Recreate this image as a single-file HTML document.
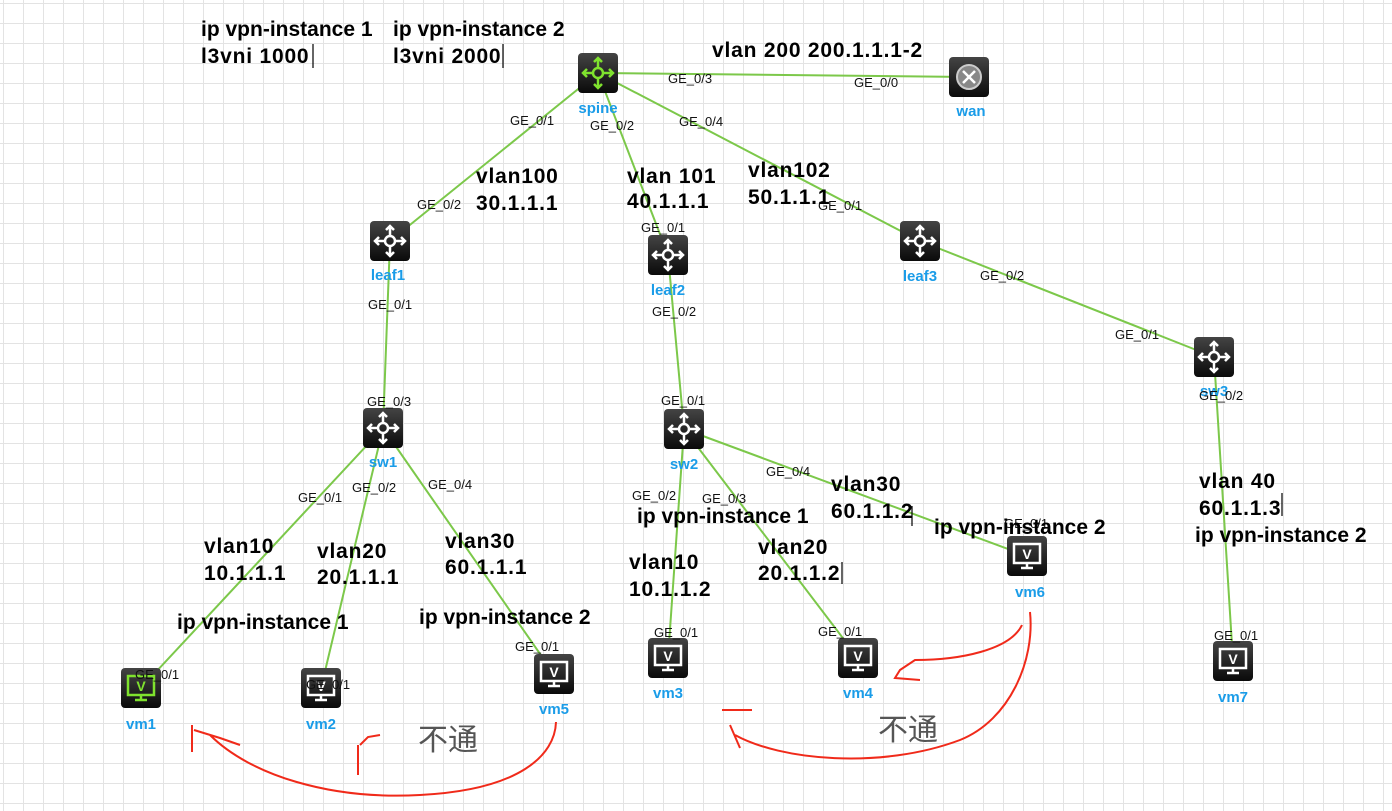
<!DOCTYPE html>
<html><head><meta charset="utf-8"><style>
html,body{margin:0;padding:0;}
body{width:1392px;height:811px;overflow:hidden;background:#fff;
background-image:linear-gradient(#e3e3e3 1px,transparent 1px),linear-gradient(90deg,#e3e3e3 1px,transparent 1px);
background-size:20px 20px;background-position:3px 3px;font-family:"Liberation Sans","Noto Sans CJK SC",sans-serif;}
svg{position:absolute;left:0;top:0}
.p{font-size:13px;fill:#111}
.b{font-size:21px;font-weight:bold;fill:#000}
.b .d{letter-spacing:0.8px}
.n{font-size:15px;font-weight:bold;fill:#1a9ce8}
</style></head><body>
<svg width="1392" height="811" xmlns="http://www.w3.org/2000/svg">
<defs>
<linearGradient id="g" x1="0" y1="0" x2="0" y2="1"><stop offset="0" stop-color="#444"/><stop offset="1" stop-color="#0a0a0a"/></linearGradient>
<g id="r"><rect x="-20" y="-20" width="40" height="40" rx="4" fill="url(#g)"/>
<g stroke="#fff" stroke-width="2.5" fill="none"><circle r="5"/><path d="M0-15V-5M0 5V15M-15 0H-5M5 0H15M-4-11L0-15L4-11M-4 11L0 15L4 11M-11-4L-15 0L-11 4M11-4L15 0L11 4"/></g></g>
<g id="rg"><rect x="-20" y="-20" width="40" height="40" rx="4" fill="url(#g)"/>
<g stroke="#7fe22e" stroke-width="2.5" fill="none"><circle r="5"/><path d="M0-15V-5M0 5V15M-15 0H-5M5 0H15M-4-11L0-15L4-11M-4 11L0 15L4 11M-11-4L-15 0L-11 4M11-4L15 0L11 4"/></g></g>
<g id="v"><rect x="-20" y="-20" width="40" height="40" rx="4" fill="url(#g)"/>
<rect x="-13" y="-12" width="26" height="19" fill="none" stroke="#fff" stroke-width="2.5"/><path d="M-6 12H6M0 7V12" stroke="#fff" stroke-width="2.5"/><text x="0" y="3" font-size="14" font-weight="bold" fill="#fff" text-anchor="middle">V</text></g>
<g id="vg"><rect x="-20" y="-20" width="40" height="40" rx="4" fill="url(#g)"/>
<rect x="-13" y="-12" width="26" height="19" fill="none" stroke="#7fe22e" stroke-width="2.5"/><path d="M-6 12H6M0 7V12" stroke="#7fe22e" stroke-width="2.5"/><text x="0" y="3" font-size="14" font-weight="bold" fill="#7fe22e" text-anchor="middle">V</text></g>
<g id="w"><rect x="-20" y="-20" width="40" height="40" rx="4" fill="url(#g)"/><circle r="12" fill="#888" stroke="#ccc" stroke-width="2"/><path d="M-6-6L6 6M6-6L-6 6" stroke="#fff" stroke-width="2.5"/></g>
</defs>
<g stroke="#7cc84a" stroke-width="2" fill="none">
<path d="M598 73L969 77M598 73L390 241M598 73L668 255M598 73L920 241M390 241L383 428M668 255L684 429M920 241L1214 357M383 428L141 688M383 428L321 688M383 428L554 674M684 429L668 658M684 429L858 658M684 429L1027 556M1214 357L1233 661"/>
</g>
<use href="#rg" x="598" y="73"/><use href="#w" x="969" y="77"/>
<use href="#r" x="390" y="241"/><use href="#r" x="668" y="255"/><use href="#r" x="920" y="241"/>
<use href="#r" x="1214" y="357"/><use href="#r" x="383" y="428"/><use href="#r" x="684" y="429"/>
<use href="#vg" x="141" y="688"/><use href="#v" x="321" y="688"/><use href="#v" x="554" y="674"/>
<use href="#v" x="668" y="658"/><use href="#v" x="858" y="658"/><use href="#v" x="1027" y="556"/><use href="#v" x="1233" y="661"/>
<g class="n" text-anchor="middle">
<text x="598" y="113">spine</text><text x="971" y="116">wan</text><text x="388" y="280">leaf1</text>
<text x="668" y="295">leaf2</text><text x="920" y="281">leaf3</text><text x="1214" y="396">sw3</text>
<text x="383" y="467">sw1</text><text x="684" y="469">sw2</text>
<text x="141" y="729">vm1</text><text x="321" y="729">vm2</text><text x="554" y="714">vm5</text>
<text x="668" y="698">vm3</text><text x="858" y="698">vm4</text><text x="1030" y="597">vm6</text><text x="1233" y="702">vm7</text>
</g>
<g class="p">
<text x="668" y="83">GE_0/3</text><text x="854" y="87">GE_0/0</text>
<text x="510" y="125">GE_0/1</text><text x="590" y="130">GE_0/2</text><text x="679" y="126">GE_0/4</text>
<text x="417" y="209">GE_0/2</text><text x="641" y="232">GE_0/1</text><text x="818" y="210">GE_0/1</text>
<text x="368" y="309">GE_0/1</text><text x="652" y="316">GE_0/2</text><text x="980" y="280">GE_0/2</text>
<text x="1115" y="339">GE_0/1</text><text x="367" y="406">GE_0/3</text><text x="661" y="405">GE_0/1</text>
<text x="1199" y="400">GE_0/2</text>
<text x="298" y="502">GE_0/1</text><text x="352" y="492">GE_0/2</text><text x="428" y="489">GE_0/4</text>
<text x="632" y="500">GE_0/2</text><text x="702" y="503">GE_0/3</text><text x="766" y="476">GE_0/4</text>
<text x="1004" y="528">GE_0/1</text>
<text x="515" y="651">GE_0/1</text><text x="654" y="637">GE_0/1</text><text x="818" y="636">GE_0/1</text>
<text x="1214" y="640">GE_0/1</text><text x="135" y="679">GE_0/1</text><text x="306" y="689">GE_0/1</text>
</g>
<g class="b">
<text x="201" y="36">ip vpn-instance 1</text><text x="201" y="63" class="d">l3vni 1000</text>
<text x="393" y="36">ip vpn-instance 2</text><text x="393" y="63" class="d">l3vni 2000</text>
<text x="712" y="57" class="d">vlan 200 200.1.1.1-2</text>
<text x="476" y="183" class="d">vlan100</text><text x="476" y="210" class="d">30.1.1.1</text>
<text x="627" y="183" class="d">vlan 101</text><text x="627" y="208" class="d">40.1.1.1</text>
<text x="748" y="177" class="d">vlan102</text><text x="748" y="204" class="d">50.1.1.1</text>
<text x="204" y="553" class="d">vlan10</text><text x="204" y="580" class="d">10.1.1.1</text>
<text x="317" y="558" class="d">vlan20</text><text x="317" y="584" class="d">20.1.1.1</text>
<text x="445" y="548" class="d">vlan30</text><text x="445" y="574" class="d">60.1.1.1</text>
<text x="177" y="629">ip vpn-instance 1</text><text x="419" y="624">ip vpn-instance 2</text>
<text x="637" y="523">ip vpn-instance 1</text>
<text x="629" y="569" class="d">vlan10</text><text x="629" y="596" class="d">10.1.1.2</text>
<text x="758" y="554" class="d">vlan20</text><text x="758" y="580" class="d">20.1.1.2</text>
<text x="831" y="491" class="d">vlan30</text><text x="831" y="518" class="d">60.1.1.2</text>
<text x="934" y="534">ip vpn-instance 2</text>
<text x="1199" y="488" class="d">vlan 40</text><text x="1199" y="515" class="d">60.1.1.3</text>
<text x="1195" y="542">ip vpn-instance 2</text>
</g>
<g stroke="#000" stroke-width="1.2"><path d="M313 44V68M503 44V68M912 506V526M1282 493V516M842 562V584"/></g>
<text x="418" y="750" font-size="30" fill="#555">不通</text>
<text x="878" y="740" font-size="30" fill="#555">不通</text>
<g stroke="#f02a1a" stroke-width="2" fill="none">
<path d="M556 722C555 755 520 790 420 795C330 800 250 775 210 735M192 725V752M194 730L220 738L240 745"/>
<path d="M380 735L368 737L360 745M358 745V775"/>
<path d="M1030 612C1035 660 1010 720 960 740C880 770 780 760 735 735M722 710H752M730 725L740 748"/>
<path d="M1022 625C1010 650 960 660 915 660L900 670L895 678L920 680"/>
</g>
</svg>
</body></html>
